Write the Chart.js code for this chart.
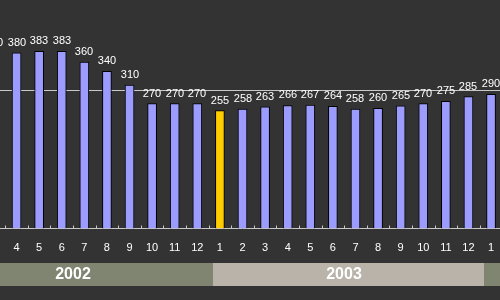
<!DOCTYPE html>
<html>
<head>
<meta charset="utf-8">
<script src="https://cdn.jsdelivr.net/npm/chart.js@4.4.1/dist/chart.umd.min.js"></script>
<style>
  html, body { margin: 0; padding: 0; background: #333; }
  #wrap { position: relative; width: 500px; height: 300px; overflow: hidden; background: #333; }
  #chart { position: absolute; left: -22px; top: 0; }
</style>
</head>
<body>
<div id="wrap"><canvas id="chart" width="529" height="300"></canvas></div>
<script>
// ── Data ──────────────────────────────────────────────
const MONTHS = ['3', '4', '5', '6', '7', '8', '9', '10', '11', '12',
                '1', '2', '3', '4', '5', '6', '7', '8', '9', '10', '11', '12',
                '1'];
const YEARS  = [2002, 2002, 2002, 2002, 2002, 2002, 2002, 2002, 2002, 2002,
                2003, 2003, 2003, 2003, 2003, 2003, 2003, 2003, 2003, 2003, 2003, 2003,
                2004];
const VALUES = [380, 380, 383, 383, 360, 340, 310, 270, 270, 270,
                255, 258, 263, 266, 267, 264, 258, 260, 265, 270, 275, 285,
                290];
const HIGHLIGHT = 10;     // Jan 2003
const REF_VALUE = 300;

const BAR_COLOR  = '#9c9cff';
const HI_COLOR   = '#ffcc00';
const BAND_COLORS = ['#7f8570', '#b9b3a9'];
const FONT = '"Liberation Sans", Arial, sans-serif';

// ── Overlay plugin: ref line, value labels, tick marks, year bands ──
const overlay = {
  id: 'overlay',
  beforeDatasetsDraw(chart) {
    const { ctx, chartArea: a, scales: { y } } = chart;
    const py = Math.round(y.getPixelForValue(REF_VALUE)) + 0.5;
    ctx.save();
    ctx.strokeStyle = '#c8c8c8';
    ctx.lineWidth = 1;
    ctx.beginPath();
    ctx.moveTo(0, py);
    ctx.lineTo(chart.width, py);
    ctx.stroke();
    ctx.restore();
  },
  afterDatasetsDraw(chart) {
    const { ctx, chartArea: a, scales: { x } } = chart;
    const meta = chart.getDatasetMeta(0);
    ctx.save();
    ctx.font = '11px ' + FONT;
    ctx.fillStyle = '#ffffff';
    ctx.textAlign = 'center';
    ctx.textBaseline = 'alphabetic';
    meta.data.forEach((bar, i) => ctx.fillText(String(VALUES[i]), Math.round(bar.x), Math.round(bar.y) - 7));

    // small tick marks between categories, pointing up
    const w = x.width / MONTHS.length;
    ctx.strokeStyle = '#c8c8c8';
    ctx.lineWidth = 1;
    ctx.beginPath();
    for (let i = 0; i <= MONTHS.length; i++) {
      const px = Math.round(x.getPixelForValue(i) - w / 2) + 0.5;
      ctx.moveTo(px, a.bottom - 3);
      ctx.lineTo(px, a.bottom);
    }
    ctx.stroke();
    ctx.restore();
  },
  afterDraw(chart) {
    const { ctx, scales: { x } } = chart;
    const w = x.width / MONTHS.length;
    const years = [...new Set(YEARS)];
    ctx.save();
    years.forEach((yr, k) => {
      const fi = YEARS.indexOf(yr);
      const m = +MONTHS[fi];
      const start = Math.round(x.getPixelForValue(fi) - w / 2 - (m - 1) * w + 4.5);
      const end = Math.round(start + 12 * w);
      ctx.fillStyle = BAND_COLORS[k % 2];
      ctx.fillRect(start, 263, end - start, 23);
      ctx.fillStyle = '#ffffff';
      ctx.font = 'bold 16px ' + FONT;
      ctx.textAlign = 'center';
      ctx.textBaseline = 'middle';
      ctx.fillText(String(yr), Math.round((start + end) / 2) - 5, 275);
    });
    ctx.restore();
  }
};

new Chart(document.getElementById('chart'), {
  type: 'bar',
  data: {
    labels: MONTHS,
    datasets: [{
      data: VALUES,
      backgroundColor: VALUES.map((v, i) => i === HIGHLIGHT ? HI_COLOR : BAR_COLOR),
      borderColor: '#000000',
      borderWidth: 1,
      barThickness: 9,
    }],
  },
  options: {
    responsive: false,
    animation: false,
    layout: { padding: 0 },
    plugins: { legend: { display: false }, tooltip: { enabled: false } },
    scales: {
      x: {
        z: 1,
        grid: { display: false, drawTicks: false },
        border: { display: true, color: '#c8c8c8', width: 1 },
        ticks: { color: '#ffffff', font: { family: FONT, size: 11 }, padding: 13, autoSkip: false, maxRotation: 0 },
        afterFit(scale) { scale.height = 71.5; },
      },
      y: { display: false, min: 0, max: 494 },
    },
  },
  plugins: [overlay],
});
</script>
</body>
</html>
